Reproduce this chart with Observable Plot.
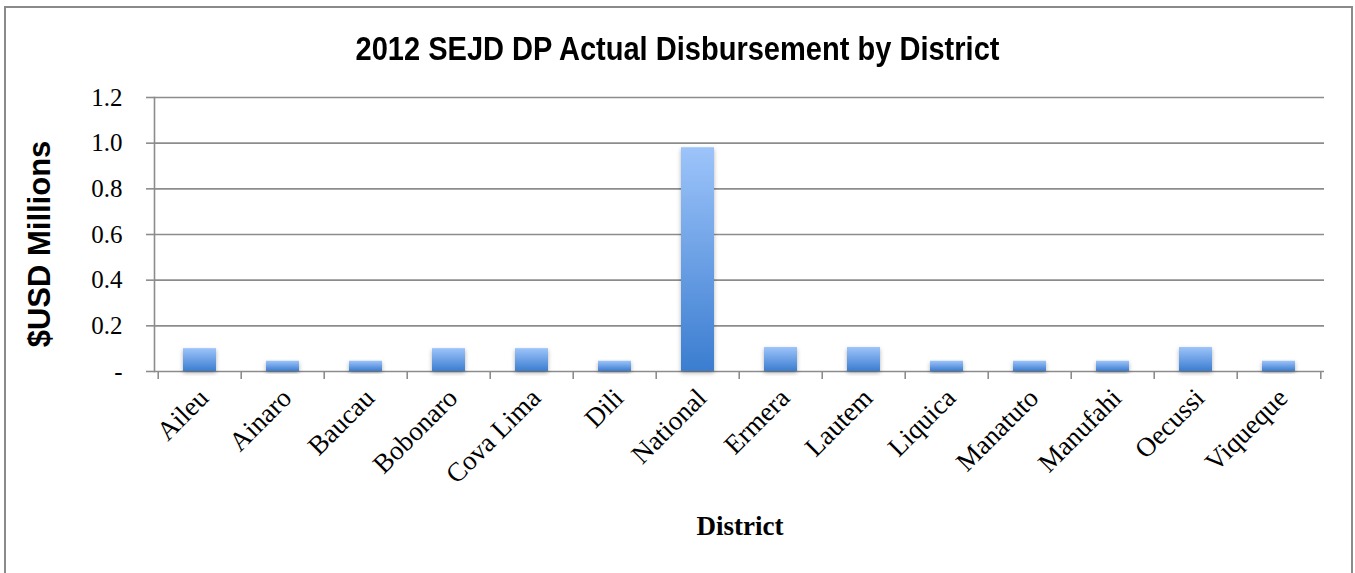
<!DOCTYPE html>
<html><head><meta charset="utf-8">
<script src="https://cdn.jsdelivr.net/npm/d3@7"></script>
<script src="https://cdn.jsdelivr.net/npm/@observablehq/plot@0.6"></script>
<style>
body{margin:0;background:#fff}
#wrap{position:relative;width:1355px;height:573px;overflow:hidden;background:#fff}
#border{position:absolute;left:4px;top:6px;width:1349px;height:620px;border:2px solid #8a8a8a;box-sizing:border-box}
#title{position:absolute;left:0;width:1355px;top:32px;text-align:center;font-family:"Liberation Sans",Arial,sans-serif;font-weight:bold;font-size:33px;line-height:33px;color:#000;transform:scaleX(0.88);transform-origin:677.5px 0}
#ylabel{position:absolute;left:40px;top:244px;transform:translate(-50%,-50%) rotate(-90deg);font-family:"Liberation Sans",Arial,sans-serif;font-weight:bold;font-size:31px;white-space:nowrap;color:#000}
#xlabel{position:absolute;left:740px;top:513px;transform:translateX(-50%);font-family:"Liberation Serif",serif;font-weight:bold;font-size:27px;line-height:27px;white-space:nowrap;color:#000}
#chart{position:absolute;left:0;top:0}
</style>
</head><body>
<div id="wrap">
  <div id="chart"></div>
  <div id="border"></div>
  <div id="title"></div>
  <div id="ylabel"></div>
  <div id="xlabel"></div>
</div>
<script>
const titleText = "2012 SEJD DP Actual Disbursement by District";
const yLabelText = "$USD Millions";
const xLabelText = "District";
const districts = ["Aileu","Ainaro","Baucau","Bobonaro","Cova Lima","Dili","National","Ermera","Lautem","Liquica","Manatuto","Manufahi","Oecussi","Viqueque"];
const disbursement = [0.10,0.045,0.045,0.10,0.10,0.045,0.98,0.105,0.105,0.045,0.045,0.045,0.105,0.045];
const yTicks = [0,0.2,0.4,0.6,0.8,1.0,1.2];

document.getElementById("title").textContent = titleText;
document.getElementById("ylabel").textContent = yLabelText;
document.getElementById("xlabel").textContent = xLabelText;

const data = districts.map((d,i)=>({district:d, value:disbursement[i]}));
const W = 1355, ML = 154, MR = 31;
const step = (W - ML - MR) / districts.length;
const gridColor = "#8c8c8c";

const chart = Plot.plot({
  width: W, height: 573,
  marginLeft: ML, marginRight: MR, marginTop: 97, marginBottom: 202,
  style: {fontFamily: "'Liberation Serif', serif", fontSize: "25px", color: "#000", background: "transparent", overflow: "visible"},
  x: {domain: districts, paddingInner: 0.6, paddingOuter: 0.3, label: null},
  y: {domain: [0, 1.2], label: null},
  marks: [
    Plot.gridY(yTicks, {stroke: gridColor, strokeOpacity: 1, strokeWidth: 1.6}),
    Plot.axisY(yTicks, {tickSize: 8, tickPadding: 24, stroke: gridColor, strokeWidth: 1.6, fill: "#000",
      tickFormat: d => d === 0 ? "-" : d.toFixed(1), fontSize: 25}),
    Plot.frame({anchor: "left", stroke: gridColor, strokeWidth: 1.6}),
    Plot.barY(data, {x: "district", y: "value", fill: "url(#barGrad)", className: "bars"}),
    Plot.axisX(districts, {tickSize: 8, text: null, dx: -step/2, stroke: gridColor, strokeWidth: 1.6}),
    Plot.axisX([districts[districts.length-1]], {tickSize: 8, text: null, dx: step/2, stroke: gridColor, strokeWidth: 1.6}),
    Plot.axisX(districts, {tickSize: 0, tickPadding: 22, tickRotate: -45, fontSize: 27, fill: "#000", dx: 4})
  ]
});

const svg = d3.select(chart);
const defs = svg.insert("defs", ":first-child");
const g = defs.append("linearGradient").attr("id","barGrad").attr("x1",0).attr("y1",0).attr("x2",0).attr("y2",1);
g.append("stop").attr("offset","0%").attr("stop-color","#9dc4fa");
g.append("stop").attr("offset","100%").attr("stop-color","#3b7dd0");
const f = defs.append("filter").attr("id","shadow").attr("x","-30%").attr("y","-10%").attr("width","160%").attr("height","130%");
f.append("feDropShadow").attr("dx",0).attr("dy",2).attr("stdDeviation",2).attr("flood-color","#000").attr("flood-opacity",0.3);
svg.selectAll(".bars rect").attr("filter","url(#shadow)");

document.getElementById("chart").appendChild(chart);
</script>
</body></html>
